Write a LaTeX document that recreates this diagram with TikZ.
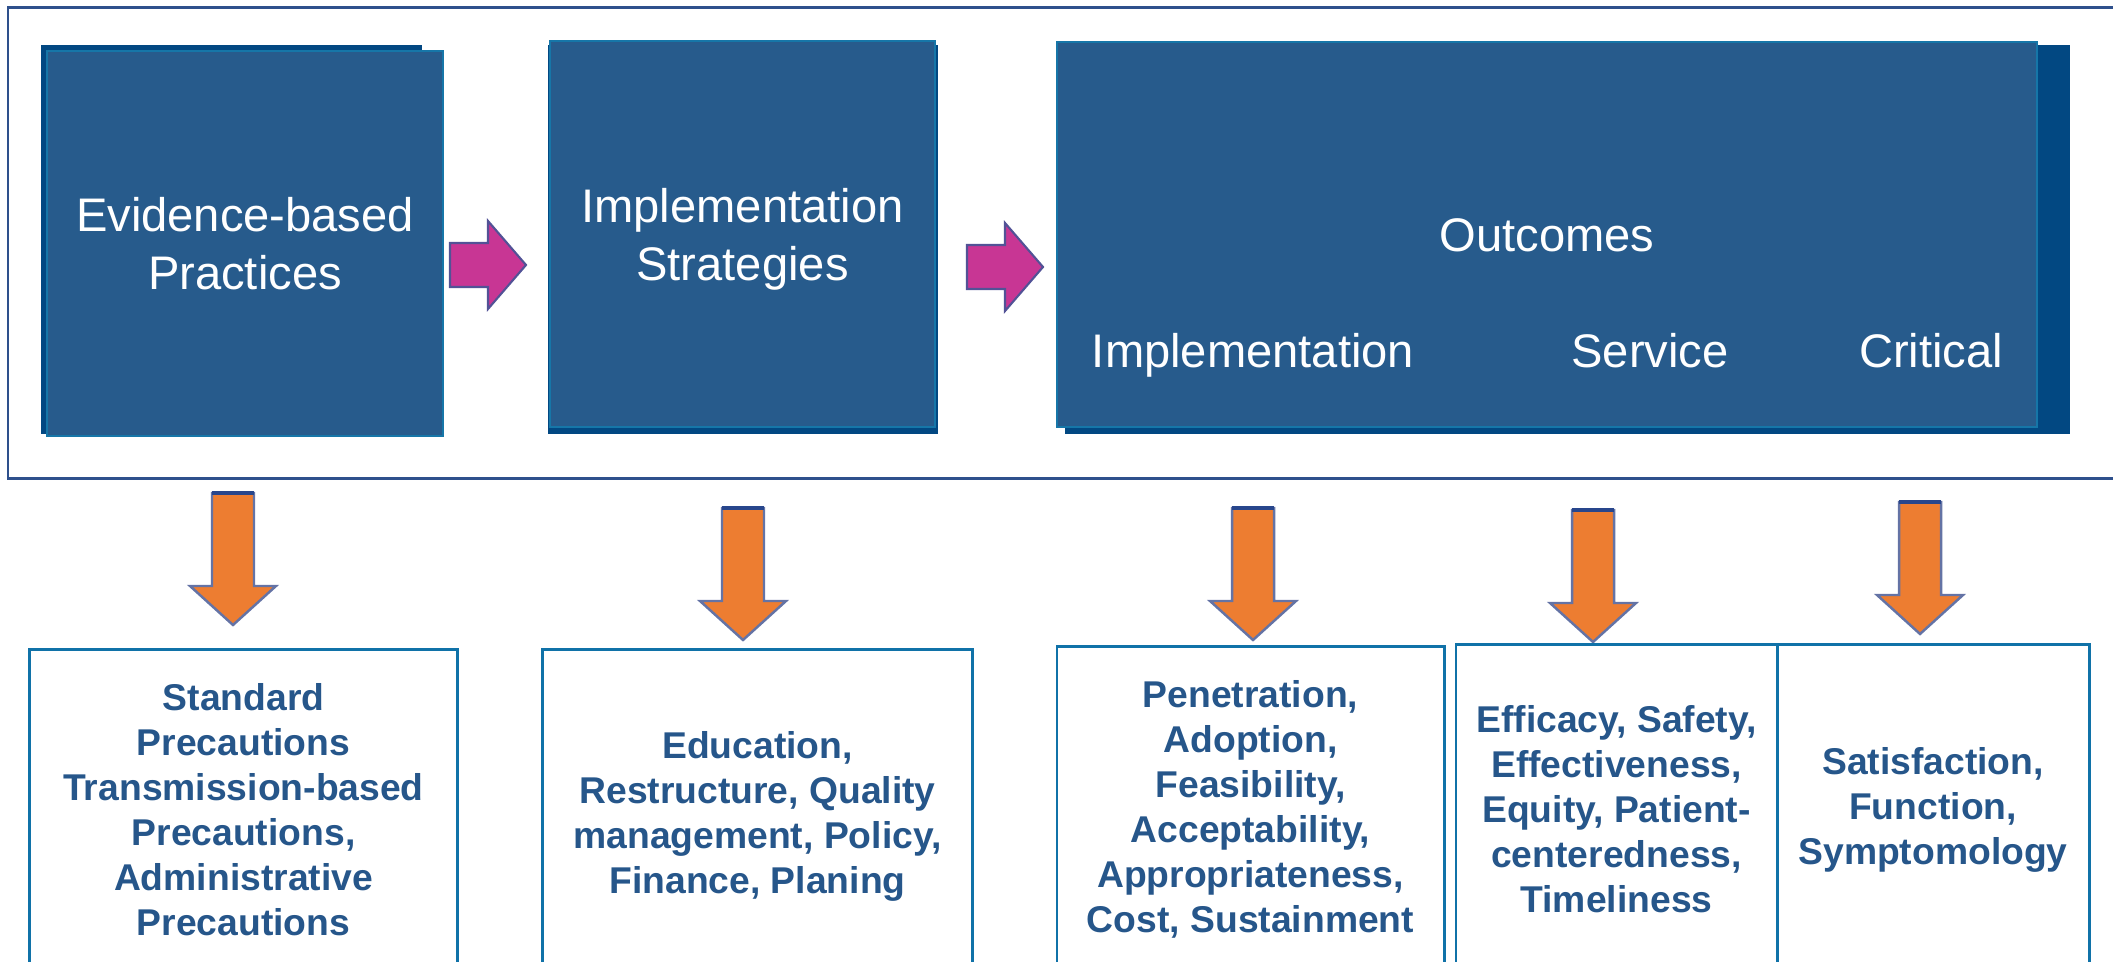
\documentclass[tikz,border=0pt]{standalone}
\usepackage{fontspec}
\setmainfont{Liberation Sans}

\definecolor{boxfill}{RGB}{39,91,140}
\definecolor{boxshade}{RGB}{2,72,130}
\definecolor{boxedge}{RGB}{22,118,168}
\definecolor{framecol}{RGB}{46,80,140}
\definecolor{listedge}{RGB}{16,114,168}
\definecolor{listtext}{RGB}{38,86,138}
\definecolor{flowpink}{RGB}{200,54,148}
\definecolor{flowedge}{RGB}{82,82,150}
\definecolor{droporange}{RGB}{237,125,49}
\definecolor{dropedge}{RGB}{100,115,165}
\definecolor{dropnavy}{RGB}{40,70,140}

\tikzset{
    topbox/.style={fill=boxfill, draw=boxedge, line width=0.55pt, text=white,
        align=center, inner sep=0pt, font=\fontsize{13.4}{16.5}\selectfont},
    toplabel/.style={text=white, inner sep=0pt, anchor=base,
        font=\fontsize{13.4}{16.5}\selectfont},
    listbox/.style={draw=listedge, line width=0.8pt, text=listtext, align=center,
        anchor=north, inner sep=0pt, font=\bfseries\fontsize{10.6}{12.8}\selectfont},
    flowarrow/.pic={
        \draw[fill=flowpink, draw=flowedge, line width=0.6pt]
            (-76,-22) -- (-38,-22) -- (-38,-44) -- (0,0) -- (-38,44)
            -- (-38,22) -- (-76,22) -- cycle;
    },
    droparrow/.pic={
        \draw[fill=droporange, draw=dropedge, line width=0.7pt]
            (-21,-132) -- (21,-132) -- (21,-39) -- (43,-39) -- (0,0)
            -- (-43,-39) -- (-21,-39) -- cycle;
        \draw[dropnavy, line width=0.9pt] (-21,-132) -- (21,-132);
    }
}

\begin{document}
\begin{tikzpicture}[x=0.01cm, y=-0.01cm]
        \useasboundingbox (0,0) rectangle (2113,962);

        % outer frame, open past the right edge
        \draw[framecol, line width=0.85pt] (8,8) rectangle (2160,479);

        % dark backs of the three blocks
        \fill[boxshade] (41,45) rectangle (422,434);
        \fill[boxshade] (548,45) rectangle (938,434);
        \fill[boxshade] (1065,45) rectangle (2070,434);

        \node[topbox, minimum width=3.96cm, minimum height=3.85cm] (ebp)
            at (245,243.5) {Evidence-based\\Practices};
        \node[topbox, minimum width=3.85cm, minimum height=3.86cm, text depth=0pt] (strat)
            at (742.5,234) {Implementation\\Strategies};
        \node[topbox, minimum width=9.8cm, minimum height=3.85cm] (outc)
            at (1547,234.5) {};
        \node[toplabel] (outhead) at (1547,252) {Outcomes};
        \node[toplabel] (implout) at (1253,368) {Implementation};
        \node[toplabel] (servout) at (1650,368) {Service};
        \node[toplabel] (critout) at (1931,368) {Critical};

        \pic at (526,265) {flowarrow};
        \pic at (1043,267) {flowarrow};

        \pic at (233,625) {droparrow};
        \pic at (743,640) {droparrow};
        \pic at (1253,640) {droparrow};
        \pic at (1593,642) {droparrow};
        \pic at (1920,634) {droparrow};

        % lists under each block
        \node[listbox, minimum width=4.27cm, minimum height=3.2cm] (prec)
            at (243.5,648) {Standard\\Precautions\\Transmission-based\\Precautions,\\Administrative\\Precautions};
        \node[listbox, minimum width=4.29cm, minimum height=3.26cm, text depth=0pt] (strlist)
            at (757.5,648) {Education,\\Restructure, Quality\\management, Policy,\\Finance, Planing};
        \node[listbox, minimum width=3.87cm, minimum height=3.26cm] (impllist)
            at (1250.5,645) {Penetration,\\Adoption,\\Feasibility,\\Acceptability,\\Appropriateness,\\Cost, Sustainment};
        \node[listbox, minimum width=3.21cm, minimum height=3.3cm] (servlist)
            at (1616.5,643) {Efficacy, Safety,\\Effectiveness,\\Equity, Patient-\\centeredness,\\Timeliness};
        \node[listbox, minimum width=3.12cm, minimum height=3.3cm] (critlist)
            at (1933,643) {Satisfaction,\\Function,\\Symptomology};
    \end{tikzpicture}
\end{document}
